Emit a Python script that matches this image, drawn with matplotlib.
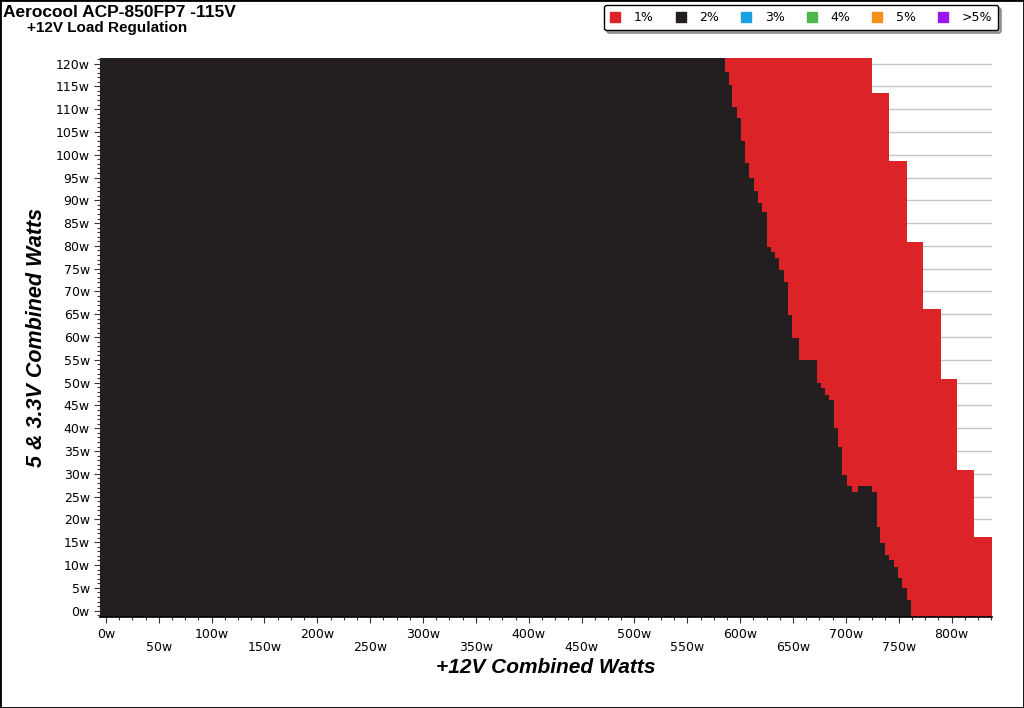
import matplotlib
matplotlib.use('Agg')
import matplotlib.pyplot as plt
from matplotlib.lines import Line2D
from matplotlib.patches import Rectangle
from matplotlib.ticker import MultipleLocator

# +12V load regulation map (values in W)
# 2% (black) region: horizontal bands, lower edge and right edge on the 12V axis
black_lo = [-1.4, 2.3, 5.0, 7.2, 9.6, 11.1, 12.2, 14.8, 18.3,
            26.0, 27.3, 29.8, 35.9, 40.1, 46.2, 47.3, 48.9, 50.0,
            55.0, 59.8, 64.9, 72.1, 74.7, 77.4, 78.7, 79.8,
            87.4, 89.4, 92.0, 94.9, 98.2, 103.0, 108.0, 110.4, 115.2, 118.1]
black_right = [761.8, 757.5, 753.0, 749.4, 745.1, 741.0, 736.6, 732.7, 729.1,
               705.4, 700.7, 696.7, 692.5, 688.7, 684.4, 680.2, 676.1, 672.3,
               655.6, 649.4, 645.6, 641.4, 637.1, 633.3, 629.0, 625.0,
               621.0, 616.8, 613.0, 608.7, 604.9, 600.7, 596.9, 592.6, 589.3, 585.5]
# small 2% island next to the 1% notch
island_lo, island_hi = 26.0, 27.3
island_left, island_right = 711.5, 724.5

# 1% (red) region: outer staircase
red_lo = [-1.4, 16.1, 30.9, 50.9, 66.1, 80.9, 98.6, 113.6]
red_right = [838.0, 821.1, 805.1, 789.6, 772.9, 757.5, 740.4, 724.3]
y_top = 121.2

legend_labels = ['1%', '2%', '3%', '4%', '5%', '>5%']
legend_colors = ['#dc2328', '#231f20', '#1ba1e2', '#4cb84c', '#f39019', '#9a17f0']

x_min = -6
red = legend_colors[0]
black = legend_colors[1]

fig = plt.figure(figsize=(10.24, 7.08), dpi=100)
ax = fig.add_axes([0.0972, 0.1285, 0.8716, 0.7895])

def region(lo, right, color):
    ys = lo + [y_top]
    xs = right + [right[-1]]
    ax.fill_betweenx(ys, x_min, xs, step='post', color=color,
                     linewidth=0, zorder=2)

region(red_lo, red_right, red)
region(black_lo, black_right, black)
ax.barh(island_lo, island_right - island_left, left=island_left,
        height=island_hi - island_lo, align='edge', color=black,
        linewidth=0, zorder=3)

ax.set_xlim(x_min, 838.3)
ax.set_ylim(-1.4, y_top)

# axes styling
for s in ['top', 'right']:
    ax.spines[s].set_visible(False)
ax.spines['bottom'].set_linewidth(1.2)
ax.spines['left'].set_color(black)

ax.set_yticks(range(0, 121, 5))
ax.set_yticklabels([f'{v}w' for v in range(0, 121, 5)])
ax.yaxis.set_minor_locator(MultipleLocator(1))
ax.yaxis.grid(True, color='#c4c4c4', linewidth=1, zorder=0)
ax.set_axisbelow(True)

xt = list(range(0, 801, 50))
ax.set_xticks(xt)
ax.set_xticklabels([f'{v}w' if v % 100 == 0 else f'\n{v}w' for v in xt],
                   linespacing=1.0)
ax.xaxis.set_minor_locator(MultipleLocator(12.5))

ax.tick_params(axis='both', which='major', labelsize=9, length=4, width=0.8,
               colors='#333333', labelcolor='black')
ax.tick_params(axis='both', which='minor', length=2.2, width=0.8, colors='#333333')
ax.tick_params(axis='x', which='major', pad=4)
ax.tick_params(axis='y', which='major', pad=3)

ax.set_xlabel('+12V Combined Watts', fontsize=15, fontweight='bold',
              fontstyle='italic', family='Liberation Sans', labelpad=3)
ax.set_ylabel('5 & 3.3V Combined Watts', fontsize=15.5, fontweight='bold',
              fontstyle='italic', family='Liberation Sans', labelpad=6)

# titles
fig.text(0.003, 0.993, 'Aerocool ACP-850FP7 -115V', ha='left', va='top',
         fontsize=12.5, fontweight='bold', family='Liberation Sans')
fig.text(0.026, 0.970, '+12V Load Regulation', ha='left', va='top',
         fontsize=11, fontweight='bold', family='Liberation Sans')

# legend
handles = [Line2D([], [], marker='s', linestyle='none', markersize=7,
                  markerfacecolor=c, markeredgecolor=c) for c in legend_colors]
leg = fig.legend(handles, legend_labels, ncol=6, loc='upper right',
                 bbox_to_anchor=(0.975, 0.993), fontsize=9, frameon=True,
                 fancybox=True, shadow=True, handlelength=0.8,
                 handletextpad=1.1, columnspacing=1.75, borderpad=0.5,
                 borderaxespad=0)
leg.get_frame().set_edgecolor('black')
leg.get_frame().set_linewidth(1)

# figure border
fig.patches.append(Rectangle((0, 0), 1, 1, transform=fig.transFigure,
                             fill=False, edgecolor='black', linewidth=2))

plt.savefig('out.png', dpi=100)
